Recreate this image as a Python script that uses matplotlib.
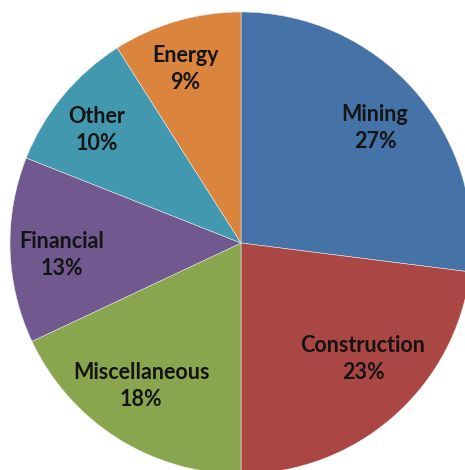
import matplotlib
matplotlib.use('Agg')
import matplotlib.pyplot as plt

# sector shares, clockwise from 12 o'clock
sectors = ['Mining', 'Construction', 'Miscellaneous', 'Financial', 'Other', 'Energy']
shares = [27, 23, 18, 13, 10, 9]
colors = ['#4572A7', '#AA4643', '#89A54E', '#71588F', '#4198AF', '#DB843D']

labels = [f'{s}\n{v}%' for s, v in zip(sectors, shares)]

# where each label block sits (pixel units of the canvas)
label_xy = [(375, 342), (363, 111), (141, 84), (62, 215), (97, 340), (185, 401)]

fig = plt.figure(figsize=(4.65, 4.7), dpi=100)
ax = fig.add_axes([0, 0, 1, 1])

wedges, texts = ax.pie(shares, colors=colors, labels=labels, startangle=90,
                       counterclock=False, center=(241, 227), radius=231,
                       labeldistance=0.77, frame=True,
                       wedgeprops=dict(edgecolor='#e8e8e8', linewidth=0.4))
ax.set_xlim(0, 465)
ax.set_ylim(0, 470)
ax.set_aspect('equal')
ax.axis('off')

for t, xy in zip(texts, label_xy):
    t.set_position(xy)
    t.set_ha('center')
    t.set_va('center')
    t.set_multialignment('center')
    t.set_fontfamily('Lato')
    t.set_fontweight('bold')
    t.set_fontsize(15.5)
    t.set_color('#141414')
    t.set_linespacing(1.35)

fig.savefig('out.png', dpi=100)
